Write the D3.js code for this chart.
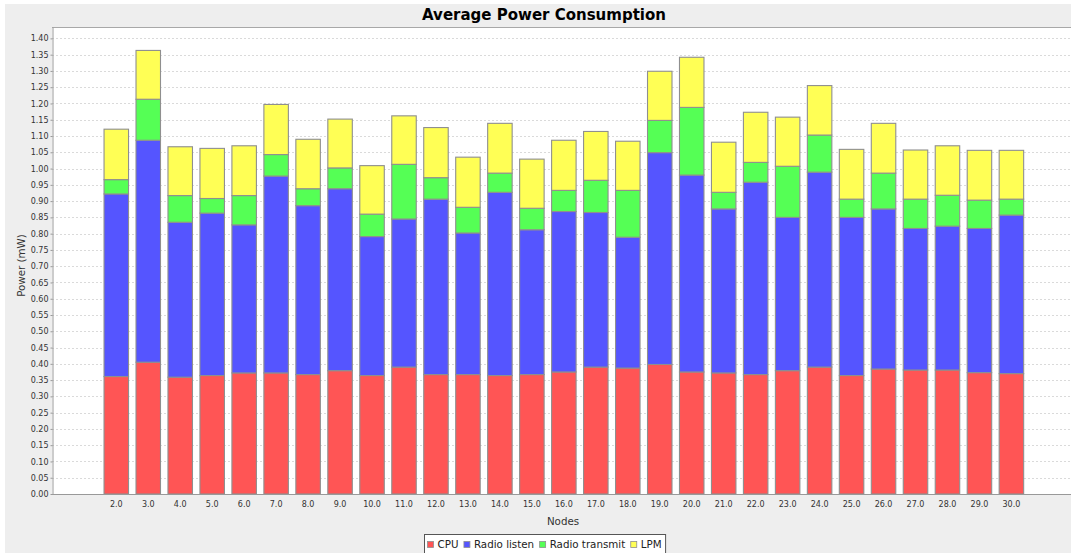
<!DOCTYPE html>
<html><head><meta charset="utf-8">
<script src="https://cdn.jsdelivr.net/npm/d3@7/dist/d3.min.js"></script>
<style>
body{margin:0;background:#fff}
svg{display:block}
text{font-family:"DejaVu Sans",sans-serif}
</style>
</head><body>
<svg id="chart" width="1071" height="553"></svg>
<script>
const categories = ["2.0","3.0","4.0","5.0","6.0","7.0","8.0","9.0","10.0","11.0","12.0","13.0","14.0","15.0","16.0","17.0","18.0","19.0","20.0","21.0","22.0","23.0","24.0","25.0","26.0","27.0","28.0","29.0","30.0"];
const cpu           = [0.361,0.405,0.359,0.364,0.372,0.372,0.367,0.379,0.364,0.390,0.367,0.367,0.364,0.367,0.375,0.390,0.387,0.398,0.375,0.372,0.367,0.379,0.390,0.364,0.384,0.381,0.381,0.373,0.370];
const radioListen   = [0.561,0.682,0.476,0.499,0.455,0.605,0.519,0.559,0.427,0.455,0.539,0.435,0.563,0.445,0.493,0.475,0.402,0.651,0.605,0.504,0.591,0.471,0.599,0.486,0.492,0.435,0.442,0.443,0.487];
const radioTransmit = [0.044,0.126,0.082,0.045,0.090,0.066,0.052,0.064,0.069,0.168,0.066,0.079,0.059,0.066,0.065,0.099,0.144,0.099,0.208,0.051,0.061,0.157,0.114,0.056,0.110,0.090,0.095,0.087,0.049];
const lpm           = [0.155,0.150,0.150,0.154,0.153,0.154,0.152,0.150,0.149,0.149,0.154,0.154,0.153,0.151,0.154,0.150,0.151,0.151,0.154,0.154,0.154,0.151,0.152,0.153,0.153,0.151,0.152,0.153,0.150];
const seriesNames  = ["CPU","Radio listen","Radio transmit","LPM"];
const seriesColors = ["#ff5555","#5555ff","#55ff55","#ffff55"];
const yTickValues  = d3.range(0, 29).map(i => +(i * 0.05).toFixed(2));
const chartTitle = "Average Power Consumption";
const xTitle = "Nodes";
const yTitle = "Power (mW)";

const seriesData = [cpu, radioListen, radioTransmit, lpm];
const table = categories.map((c, i) => {
  const row = {cat: c};
  seriesNames.forEach((s, k) => row[s] = seriesData[k][i]);
  return row;
});
const stacked = d3.stack().keys(seriesNames)(table);

const svg = d3.select("#chart");
const W = 1071, H = 553;
const plot = {left: 52, top: 27, right: 1071, bottom: 494};

// backgrounds
svg.append("rect").attr("x", 0).attr("y", 0).attr("width", W).attr("height", H).attr("fill", "#ffffff");
svg.append("rect").attr("x", 5).attr("y", 4).attr("width", W - 5).attr("height", H - 4).attr("fill", "#eeeeee");
svg.append("rect").attr("x", plot.left).attr("y", plot.top).attr("width", plot.right - plot.left).attr("height", plot.bottom - plot.top).attr("fill", "#ffffff");

const y = d3.scaleLinear().domain([0, 1.435]).range([plot.bottom, plot.top]);
const x = d3.scaleBand().domain(categories).range([100.3, 1027.4]).paddingInner(0.234).paddingOuter(0.117);

// gridlines
svg.append("g").selectAll("line").data(yTickValues.filter(v => v > 0)).join("line")
  .attr("x1", plot.left).attr("x2", plot.right)
  .attr("y1", d => Math.round(y(d)) + 0.5).attr("y2", d => Math.round(y(d)) + 0.5)
  .attr("stroke", "#dadada").attr("stroke-width", 1).attr("stroke-dasharray", "2,2");

// top border
svg.append("line").attr("x1", plot.left).attr("x2", plot.right).attr("y1", plot.top + 0.5).attr("y2", plot.top + 0.5)
  .attr("stroke", "#a8a8a8").attr("stroke-width", 1);

// bars
svg.append("g").selectAll("g").data(stacked).join("g")
  .attr("fill", (d, i) => seriesColors[i])
  .selectAll("rect").data(d => d).join("rect")
  .attr("x", d => x(d.data.cat))
  .attr("width", x.bandwidth())
  .attr("y", d => y(d[1]))
  .attr("height", d => y(d[0]) - y(d[1]))
  .attr("stroke", "#8f8f8f").attr("stroke-width", 1.1);

// y axis
const yAxis = svg.append("g").attr("transform", `translate(${plot.left + 0.5},0)`)
  .call(d3.axisLeft(y).tickValues(yTickValues).tickFormat(d3.format(".2f")).tickSize(2).tickSizeOuter(0).tickPadding(2));
yAxis.select(".domain").attr("stroke", "#999");
yAxis.selectAll(".tick line").attr("stroke", "#999");
yAxis.selectAll("text").attr("font-family", "DejaVu Sans").attr("font-size", 8).attr("fill", "#333");

// x axis
const xAxis = svg.append("g").attr("transform", `translate(0,${plot.bottom + 0.5})`)
  .call(d3.axisBottom(x).tickSize(0).tickPadding(7));
xAxis.select(".domain").attr("stroke", "#999").attr("d", `M${plot.left},0H${plot.right}`);
xAxis.selectAll("text").attr("font-family", "DejaVu Sans").attr("font-size", 8).attr("fill", "#333");

// titles
svg.append("text").attr("x", 544).attr("y", 19.5).attr("text-anchor", "middle")
  .attr("font-size", 15).attr("font-weight", "bold").attr("fill", "#000").text(chartTitle);
svg.append("text").attr("x", 563).attr("y", 524.5).attr("text-anchor", "middle")
  .attr("font-size", 10.3).attr("fill", "#333").text(xTitle);
svg.append("text").attr("transform", "translate(24.5,265.5) rotate(-90)").attr("text-anchor", "middle")
  .attr("font-size", 10.3).attr("fill", "#333").text(yTitle);

// legend
const lg = svg.append("g");
const legBox = lg.append("rect").attr("x", 424.5).attr("y", 534.5).attr("height", 30)
  .attr("fill", "#ffffff").attr("stroke", "#555").attr("stroke-width", 1);
let lx = 427.5;
seriesNames.forEach((name, i) => {
  lg.append("rect").attr("x", lx).attr("y", 541.5).attr("width", 6).attr("height", 6)
    .attr("fill", seriesColors[i]).attr("stroke", "#8f8f8f").attr("stroke-width", 0.8);
  const t = lg.append("text").attr("x", lx + 10).attr("y", 547.8).attr("font-size", 10.3).attr("fill", "#222").text(name);
  lx = lx + 10 + t.node().getComputedTextLength() + 5.5;
});
legBox.attr("width", lx - 424.5 - 1.5);
</script>
</body></html>
